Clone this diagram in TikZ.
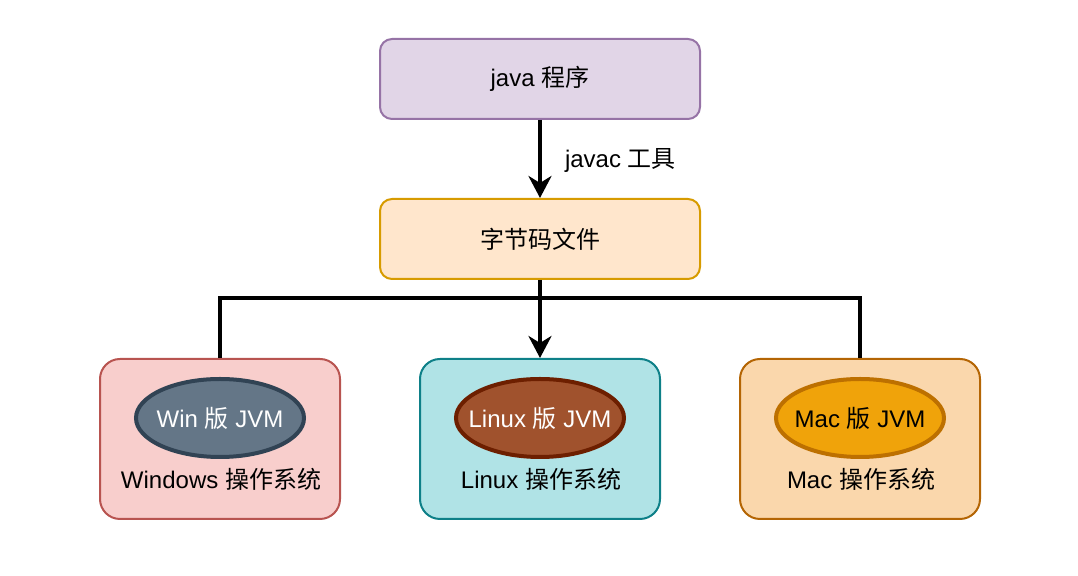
\documentclass[tikz,border=0pt]{standalone}
\usepackage{fontspec}
\setmainfont{Liberation Sans}
\newfontfamily\cjk{Noto Sans CJK SC}
\usepackage{tikz}
\usetikzlibrary{arrows.meta}
\usetikzlibrary{shapes.geometric}
\newcommand{\zh}[1]{{\cjk #1}}

\begin{document}
\begin{tikzpicture}[x=0.5pt,y=-0.5pt,font=\fontsize{12pt}{14pt}\selectfont]
    \definecolor{progfill}{HTML}{E1D5E7};
    \definecolor{progline}{HTML}{9673A6};
    \definecolor{bcfill}{HTML}{FFE6CC};
    \definecolor{bcline}{HTML}{D79B00};
    \definecolor{winfill}{HTML}{F8CECC};
    \definecolor{winline}{HTML}{B85450};
    \definecolor{winjfill}{HTML}{647687};
    \definecolor{winjline}{HTML}{314354};
    \definecolor{linfill}{HTML}{B0E3E6};
    \definecolor{linline}{HTML}{0E8088};
    \definecolor{linjfill}{HTML}{A0522D};
    \definecolor{linjline}{HTML}{6D1F00};
    \definecolor{macfill}{HTML}{FAD7AC};
    \definecolor{macline}{HTML}{B46504};
    \definecolor{macjfill}{HTML}{F0A30A};
    \definecolor{macjline}{HTML}{BD7000};
\useasboundingbox (0,0) rectangle (1078,576);
\tikzstyle{topbox}=[draw,line width=1pt,rounded corners=6pt,minimum width=160pt,minimum height=40pt,inner sep=0pt];
\tikzstyle{osbox}=[draw,line width=1pt,rounded corners=10pt,minimum width=120pt,minimum height=80pt,inner sep=0pt];
\tikzstyle{jvm}=[draw,ellipse,line width=2pt,minimum width=84pt,minimum height=39pt,inner sep=0pt];
\tikzstyle{link}=[line width=2pt];
\tikzstyle{tip}=[-{Stealth[length=11pt,width=11.5pt,inset=3.5pt]}];
% upper part
\node [topbox,fill=progfill,draw=progline] (prog) at (540,79) {java \zh{程序}};
\node [topbox,fill=bcfill,draw=bcline] (bc) at (540,239) {\zh{字节码文件}};
\draw [link,tip] (prog.south) -- (bc.north);
\node [anchor=west] (tool) at (558,160) {javac \zh{工具}};
% operating systems
\node [osbox,fill=winfill,draw=winline] (win) at (220,439) {};
\node [osbox,fill=linfill,draw=linline] (lin) at (540,439) {};
\node [osbox,fill=macfill,draw=macline] (mac) at (860,439) {};
\node [jvm,fill=winjfill,draw=winjline,text=white] (winj) at (220,418) {\makebox[0pt]{Win \zh{版} JVM}};
\node [jvm,fill=linjfill,draw=linjline,text=white] (linj) at (540,418) {\makebox[0pt]{Linux \zh{版} JVM}};
\node [jvm,fill=macjfill,draw=macjline] (macj) at (860,418) {\makebox[0pt]{Mac \zh{版} JVM}};
\node (wint) at (221,479) {Windows \zh{操作系统}};
\node (lint) at (541,479) {Linux \zh{操作系统}};
\node (mact) at (861,479) {Mac \zh{操作系统}};
% branches
\draw [link] (bc.south) -- ++(0,18) coordinate (fork);
\draw [link] (fork) -| (win.north);
\draw [link] (fork) -| (mac.north);
\draw [link,tip] (fork) -- (lin.north);
\end{tikzpicture}
\end{document}
